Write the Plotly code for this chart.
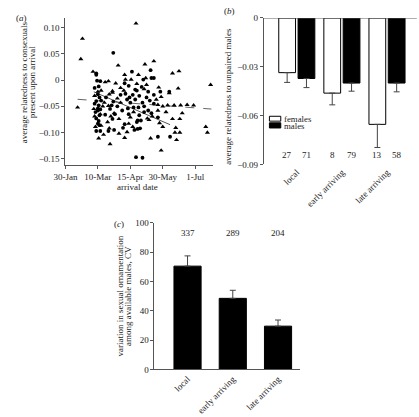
import plotly.graph_objects as go

# ---------------- Panel (a) data: arrival day (day of year) vs relatedness ----------------
circ_day = [89, 135, 112, 68, 68, 69, 73, 126, 136, 139, 66, 71, 116, 147, 158,
            70, 72, 68, 74, 66, 71, 70, 73, 67, 70, 72, 68, 70, 72, 68, 73, 71,
            79, 87, 85, 88, 83, 90, 80, 89, 94, 98, 101, 91,
            103, 108, 104, 109, 113, 116, 121, 125, 118, 110, 114, 120, 107,
            115, 119, 122, 118, 119, 123, 121, 127, 132, 136, 144, 130, 134, 139, 127,
            117, 125, 144, 159, 108, 106, 132, 124, 139, 103, 100]
circ_rel = [0.052, 0.019, 0.016, 0.013, 0.010, -0.001, -0.002, 0.001, 0.004, 0.004, -0.015, -0.012, -0.018, -0.022, -0.022,
            -0.027, -0.033, -0.040, -0.039, -0.045, -0.048, -0.054, -0.056, -0.061, -0.058, -0.067, -0.073, -0.083, -0.086, -0.097, -0.097, -0.078,
            -0.066, -0.048, -0.055, -0.074, -0.097, -0.095, -0.033, -0.041, -0.050, -0.028, -0.091, -0.065,
            -0.006, -0.011, -0.026, -0.033, -0.028, -0.037, -0.030, -0.043, -0.020, -0.043, -0.052, -0.052, -0.054,
            -0.095, -0.093, -0.092, -0.080, -0.077, -0.077, -0.067, -0.061, -0.058, -0.063, -0.071, -0.033, -0.039, -0.045, -0.050,
            -0.147, -0.148, -0.108, -0.108, -0.065, -0.037, -0.022, -0.013, -0.028, -0.084, -0.058]

tri_day = [117, 51, 49, 95, 128, 139, 103, 120, 170, 162, 209, 64, 79, 83, 92, 104, 111, 129, 118, 130,
           145, 98, 102, 127, 169, 74, 70, 88, 84, 88, 158, 45, 83, 65, 66, 73, 86, 90, 74, 84,
           71, 85, 113, 108, 110, 114, 131, 137, 150, 135, 148, 174, 162, 171, 203, 205, 165, 171, 167,
           144, 150, 156, 164, 172, 180, 188, 154, 148, 142, 96, 98, 78, 82, 66, 67, 77, 96, 103, 106,
           76, 94, 133, 144, 146, 166]
tri_rel = [0.108, 0.079, 0.040, 0.028, 0.030, 0.036, 0.010, 0.010, 0.017, 0.013, -0.009, 0.016, -0.004, -0.002, -0.006, 0.001, 0.001, 0.004, -0.007, -0.009,
           -0.014, -0.015, -0.020, -0.017, -0.016, -0.020, -0.022, -0.021, -0.027, -0.024, -0.025, -0.052, -0.049, -0.055, -0.069, -0.065, -0.069, -0.063, -0.087, -0.092,
           -0.111, -0.122, -0.089, -0.083, -0.071, -0.061, -0.073, -0.069, -0.089, -0.111, -0.134, -0.063, -0.074, -0.074, -0.089, -0.100, -0.100, -0.100, -0.114,
           -0.047, -0.050, -0.048, -0.048, -0.048, -0.047, -0.048, -0.061, -0.032, -0.037, -0.074, -0.043, -0.043, -0.080, -0.030, -0.089, -0.104, -0.102, -0.110, -0.099,
           -0.050, -0.035, -0.076, -0.058, -0.082, -0.091]

fit_all_day = [45, 210]
fit_all_rel = [-0.0366, -0.0552]
fit_sub_day = [65, 159]
fit_sub_rel = [-0.0223, -0.0850]

date_ticks = [30, 70, 110, 150, 190]
date_labels = ["30-Jan", "10-Mar", "15-Apr", "30-May", "1-Jul"]

# ---------------- Panel (b) data ----------------
groups = ["local", "early arriving", "late arriving"]
fem_rel = [-0.0336, -0.0462, -0.0654]
fem_err = [0.0060, 0.0072, 0.0142]
male_rel = [-0.0372, -0.0400, -0.0400]
male_err = [0.0056, 0.0050, 0.0054]
n_fem = [27, 8, 13]
n_male = [71, 79, 58]

# ---------------- Panel (c) data ----------------
cv = [70.5, 48.5, 29.5]
cv_err = [7.0, 5.5, 4.2]
n_cv = [337, 289, 204]

FONT = "Liberation Serif"
TXT = "#222222"
AX = "#555555"
W, H = 419, 417

def px(x):
    return x / W

def py(y):
    return 1 - y / H

fig = go.Figure()

# Panel (a)
fig.add_trace(go.Scatter(x=fit_all_day, y=fit_all_rel, mode="lines",
                         line=dict(color="#666666", width=1, dash="dash"),
                         xaxis="x", yaxis="y", showlegend=False))
fig.add_trace(go.Scatter(x=fit_sub_day, y=fit_sub_rel, mode="lines",
                         line=dict(color="#555555", width=1),
                         xaxis="x", yaxis="y", showlegend=False))
fig.add_trace(go.Scatter(x=circ_day, y=circ_rel, mode="markers",
                         marker=dict(symbol="circle", size=3.8, color="black"),
                         xaxis="x", yaxis="y", showlegend=False))
fig.add_trace(go.Scatter(x=tri_day, y=tri_rel, mode="markers",
                         marker=dict(symbol="triangle-up", size=4.5, color="black"),
                         xaxis="x", yaxis="y", showlegend=False))

# Panel (b)
xb = list(range(len(groups)))
fig.add_trace(go.Bar(x=xb, y=fem_rel, width=0.372, offset=-0.4,
                     marker=dict(color="white", line=dict(color="black", width=1)),
                     error_y=dict(type="data", symmetric=False, array=[0] * 3, arrayminus=fem_err,
                                  color="#444444", thickness=1, width=3),
                     xaxis="x2", yaxis="y2", showlegend=False))
fig.add_trace(go.Bar(x=xb, y=male_rel, width=0.372, offset=0.028,
                     marker=dict(color="black", line=dict(color="black", width=1)),
                     error_y=dict(type="data", symmetric=False, array=[0] * 3, arrayminus=male_err,
                                  color="#444444", thickness=1, width=3),
                     xaxis="x2", yaxis="y2", showlegend=False))

# Panel (c)
xc = list(range(len(groups)))
fig.add_trace(go.Bar(x=xc, y=cv, width=0.6, offset=-0.3,
                     marker=dict(color="black", line=dict(color="black", width=1)),
                     error_y=dict(type="data", symmetric=False, array=cv_err, arrayminus=[0] * 3,
                                  color="#444444", thickness=1, width=3),
                     xaxis="x3", yaxis="y3", showlegend=False))

tickfont = dict(family=FONT, size=9, color=TXT)
common = dict(showgrid=False, zeroline=False, showline=True, linecolor=AX, linewidth=1,
              ticks="outside", ticklen=3, tickcolor=AX, tickfont=tickfont)

annotations = []

def ann(x, y, text, angle=0, xref="paper", yref="paper", size=9, xanchor="center", yanchor="middle"):
    annotations.append(dict(x=x, y=y, xref=xref, yref=yref, text=text, textangle=angle,
                            showarrow=False, xanchor=xanchor, yanchor=yanchor,
                            font=dict(family=FONT, size=size, color=TXT)))

# counts panel b
for i in range(len(groups)):
    ann(i - 0.214, -0.0844, str(n_fem[i]), xref="x2", yref="y2")
    ann(i + 0.214, -0.0844, str(n_male[i]), xref="x2", yref="y2")
# counts panel c
for i in range(len(groups)):
    ann(i, 92.9, str(n_cv[i]), xref="x3", yref="y3")

# titles
ann(px(12.5), py(79), "average relatedness to consexuals", angle=-90)
ann(px(20.8), py(79), "present upon arrival", angle=-90)
ann(px(129), py(186), "arrival date")
ann(px(222.5), py(94), "average relatedness to unpaired males", angle=-90)
ann(px(110.8), py(298), "variation in sexual ornamentation", angle=-90)
ann(px(119.5), py(298), "among available males, CV", angle=-90)
ann(px(9.5), py(13), "(<i>a</i>)")
ann(px(224), py(6), "(<i>b</i>)")
ann(px(110), py(224), "(<i>c</i>)")
# legend text
ann(px(277.5), py(116.3), "females", xanchor="left", size=8.8)
ann(px(277.5), py(124), "males", xanchor="left", size=8.8)

shapes = [
    # top line of panel b (zero level)
    dict(type="line", xref="x2 domain", yref="y2", x0=0, x1=1, y0=0, y1=0,
         line=dict(color=AX, width=1)),
    # legend swatches
    dict(type="rect", xref="paper", yref="paper", x0=px(265), x1=px(276.7), y0=py(119), y1=py(114),
         fillcolor="white", line=dict(color="black", width=1)),
    dict(type="rect", xref="paper", yref="paper", x0=px(265), x1=px(276.7), y0=py(126), y1=py(120.7),
         fillcolor="black", line=dict(color="black", width=1)),
]

fig.update_layout(
    width=W, height=H, margin=dict(l=0, r=0, t=0, b=0),
    paper_bgcolor="white", plot_bgcolor="white",
    barmode="overlay", showlegend=False,
    annotations=annotations, shapes=shapes,
    xaxis=dict(domain=[px(55), px(207)], range=[30, 212], anchor="y",
               tickvals=date_ticks, ticktext=date_labels, **common),
    yaxis=dict(domain=[py(164), py(13)], range=[-0.162, 0.119], anchor="x",
               tickvals=[-0.15, -0.10, -0.05, 0, 0.05, 0.10],
               ticktext=["\u22120.15", "\u22120.10", "\u22120.05", "0", "0.05", "0.10"], **common),
    xaxis2=dict(domain=[px(259.3), px(416.7)], range=[-0.73, 2.66], anchor="y2",
                tickvals=xb, ticktext=groups, tickangle=-45, showgrid=False, zeroline=False,
                showline=False, ticks="", tickfont=tickfont),
    yaxis2=dict(domain=[py(163.3), py(13.3)], range=[-0.09, 0], anchor="x2",
                tickvals=[0, -0.03, -0.06, -0.09],
                ticktext=["0", "\u22120.03", "\u22120.06", "\u22120.09"], **common),
    xaxis3=dict(domain=[px(146.7), px(296.7)], range=[-0.73, 2.49], anchor="y3",
                tickvals=xc, ticktext=groups, tickangle=-45, showgrid=False, zeroline=False,
                showline=True, linecolor=AX, linewidth=1, ticks="", tickfont=tickfont),
    yaxis3=dict(domain=[py(373.3), py(223.3)], range=[0, 100], anchor="x3",
                tickvals=[0, 20, 40, 60, 80, 100], **common),
)

fig.write_html("out.html", config={"displayModeBar": False},
               post_script="document.body.style.margin='0';document.body.style.overflow='hidden';")
